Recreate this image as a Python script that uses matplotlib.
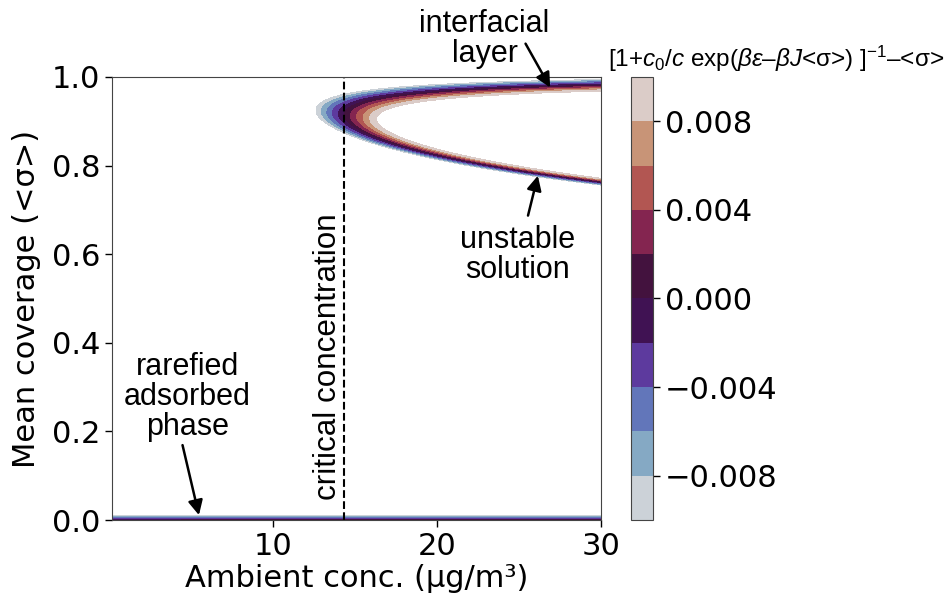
import numpy as np
import matplotlib
matplotlib.use("Agg")
import matplotlib.pyplot as plt

# mean-field adsorption parameters
C0 = 1.0          # reference concentration (µg/m³)
BETA_EPS = 12.0   # βε
BETA_J = 12.8     # βJ

# plotting ranges and colour levels
conc_range = [0.2, 30.0]
cov_range = [0.0, 1.0]
levels = np.linspace(-0.01, 0.01, 11)
cbar_ticks = [-0.008, -0.004, 0.0, 0.004, 0.008]
x_ticks = [10, 20, 30]
y_ticks = [0.0, 0.2, 0.4, 0.6, 0.8, 1.0]

plt.rcParams['font.size'] = 22
plt.rcParams['mathtext.fontset'] = 'custom'
plt.rcParams['mathtext.rm'] = 'Liberation Sans'
plt.rcParams['mathtext.it'] = 'Liberation Sans:italic'
plt.rcParams['axes.edgecolor'] = '#444444'

ann_font = dict(family='Liberation Sans', fontsize=22)

c = np.linspace(conc_range[0], conc_range[1], 800)
s = np.linspace(cov_range[0], cov_range[1], 4001)
C, S = np.meshgrid(c, s)
F = 1.0 / (1.0 + C0 / C * np.exp(BETA_EPS - BETA_J * S)) - S

# critical concentration: fold of the self-consistency curve
s_crit = 0.5 * (1 + np.sqrt(1 - 4 / BETA_J))
c_crit = C0 * np.exp(BETA_EPS - BETA_J * s_crit) * s_crit / (1 - s_crit)

fig = plt.figure(figsize=(9.44, 5.96), dpi=100)
ax = fig.add_axes([0.1186, 0.1275, 0.5181, 0.7435])
cax = fig.add_axes([0.6684, 0.1275, 0.0233, 0.7435])

cs = ax.contourf(c, s, F, levels=levels, cmap='twilight')
ax.axvline(c_crit, color='k', ls='--', lw=1.5)

ax.set_xlim(conc_range)
ax.set_ylim(cov_range)
ax.set_xticks(x_ticks)
ax.set_yticks(y_ticks)
ax.set_xlabel('Ambient conc. (µg/m³)', labelpad=2)
ax.set_ylabel('Mean coverage (<σ>)', labelpad=8)
ax.tick_params(length=5, width=1)

cb = fig.colorbar(cs, cax=cax, ticks=cbar_ticks)
cb.ax.tick_params(length=5, width=1)
cb.outline.set_edgecolor('#444444')
fig.text(0.644, 0.902,
         r'[1+$c_0$/$c$ exp($\beta\varepsilon$–$\beta J$<σ>) ]$^{-1}$–<σ>',
         family='Liberation Sans', fontsize=17.5, va='center', ha='left')

arrow = dict(arrowstyle='-|>', color='k', lw=1.8, mutation_scale=22,
             shrinkA=0, shrinkB=0)

ax.text(22.9, 1.086, 'interfacial\nlayer', ha='center', va='center',
        linespacing=1.0, clip_on=False, **ann_font)
ax.annotate('', xy=(26.9, 0.976), xytext=(25.4, 1.075),
            arrowprops=arrow, annotation_clip=False)

ax.text(24.9, 0.597, 'unstable\nsolution', ha='center', va='center',
        linespacing=1.0, **ann_font)
ax.annotate('', xy=(26.15, 0.777), xytext=(25.55, 0.687), arrowprops=arrow)

ax.text(4.8, 0.277, 'rarefied\nadsorbed\nphase', ha='center', va='center',
        linespacing=1.0, **ann_font)
ax.annotate('', xy=(5.5, 0.011), xytext=(4.5, 0.169), arrowprops=arrow)

ax.text(13.35, 0.368, 'critical concentration', rotation=90,
        ha='center', va='center', family='Liberation Sans', fontsize=22.6)

fig.savefig('out.png', dpi=100)
